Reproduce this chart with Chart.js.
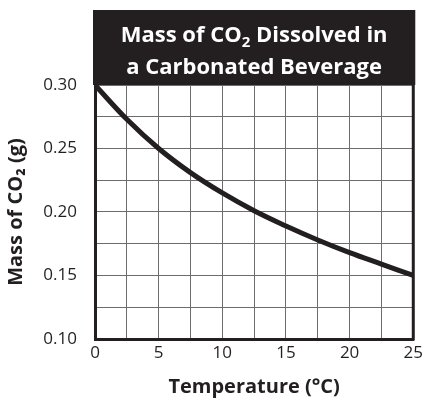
<!DOCTYPE html>
<html lang="en">
<head>
    <meta charset="UTF-8">
    <title>Mass of CO2 Dissolved in a Carbonated Beverage</title>
    <script src="https://cdn.jsdelivr.net/npm/chart.js"></script>
    <style>
        html, body { margin: 0; padding: 0; background: #fff; }
        #wrap { width: 427px; height: 403px; position: relative; }
    </style>
</head>
<body>
    <div id="wrap"><canvas id="co2Chart"></canvas></div>

    <script>
        // values
        const temperatures = [0, 2.5, 5, 7.5, 10, 12.5, 15, 17.5, 20, 22.5, 25];
        const massCO2 = [0.300, 0.273, 0.250, 0.231, 0.215, 0.201, 0.189, 0.178, 0.168, 0.159, 0.150];
        const xTickLabels = [0, 5, 10, 15, 20, 25];
        const yTickLabels = [0.10, 0.15, 0.20, 0.25, 0.30];

        const titleLines = [['Mass of CO', '2', ' Dissolved in'], ['a Carbonated Beverage']];
        const ink = '#231f20';
        const font = "'Open Sans', sans-serif";

        // black title box + right border of the grid
        const frame = {
            id: 'frame',
            afterDraw(chart) {
                const { ctx, chartArea: a } = chart;
                ctx.save();
                ctx.fillStyle = ink;
                ctx.fillRect(a.left - 2, 10, a.right - a.left + 4, a.top - 10);
                ctx.fillStyle = '#fff';
                ctx.textBaseline = 'alphabetic';
                const cx = (a.left + a.right) / 2;
                const big = 'bold 22px ' + font, small = 'bold 15px ' + font;
                const ys = [42, 74];
                titleLines.forEach((parts, i) => {
                    const widths = parts.map((p, j) => { ctx.font = j === 1 ? small : big; return ctx.measureText(p).width; });
                    let x = cx - widths.reduce((s, w) => s + w, 0) / 2;
                    parts.forEach((p, j) => {
                        ctx.font = j === 1 ? small : big;
                        ctx.textAlign = 'left';
                        ctx.fillText(p, x, ys[i] + (j === 1 ? 5 : 0));
                        x += widths[j];
                    });
                });
                ctx.strokeStyle = ink;
                ctx.lineWidth = 3;
                ctx.beginPath();
                ctx.moveTo(a.right, a.top);
                ctx.lineTo(a.right, a.bottom + 1.5);
                ctx.stroke();
                ctx.restore();
            }
        };

        new Chart(document.getElementById('co2Chart'), {
            type: 'line',
            data: {
                datasets: [{
                    data: temperatures.map((t, i) => ({ x: t, y: massCO2[i] })),
                    borderColor: ink,
                    borderWidth: 5,
                    pointRadius: 0,
                    tension: 0.4,
                    fill: false
                }]
            },
            options: {
                responsive: true,
                maintainAspectRatio: false,
                animation: false,
                layout: { padding: { top: 85, right: 11, left: 0, bottom: 0 } },
                plugins: { legend: { display: false }, tooltip: { enabled: false } },
                scales: {
                    x: {
                        type: 'linear',
                        min: 0, max: 25,
                        afterBuildTicks: s => { s.ticks = temperatures.map(v => ({ value: v })); },
                        afterFit: s => { s.height = 64; },
                        grid: { color: '#6d6d6d', lineWidth: 1, drawTicks: false },
                        border: { color: ink, width: 3 },
                        ticks: {
                            color: ink,
                            font: { family: font, size: 17 },
                            padding: 4,
                            autoSkip: false,
                            maxRotation: 0,
                            callback: v => xTickLabels.includes(v) ? String(v) : ''
                        },
                        title: {
                            display: true,
                            text: 'Temperature (°C)',
                            color: ink,
                            font: { family: font, size: 20, weight: 'bold' },
                            padding: { top: 6 }
                        }
                    },
                    y: {
                        min: 0.10, max: 0.30,
                        afterBuildTicks: s => {
                            s.ticks = [];
                            for (let i = 0; i <= 8; i++) s.ticks.push({ value: +(0.10 + i * 0.025).toFixed(3) });
                        },
                        afterFit: s => { s.width = 95; },
                        grid: { color: '#6d6d6d', lineWidth: 1, drawTicks: false },
                        border: { color: ink, width: 3 },
                        ticks: {
                            color: ink,
                            font: { family: font, size: 17 },
                            padding: 18,
                            autoSkip: false,
                            callback: v => yTickLabels.some(t => Math.abs(t - v) < 1e-6) ? v.toFixed(2) : ''
                        },
                        title: {
                            display: true,
                            text: 'Mass of CO₂ (g)',
                            color: ink,
                            font: { family: font, size: 20, weight: 'bold' },
                            padding: { top: 4, bottom: 0 }
                        }
                    }
                }
            },
            plugins: [frame]
        });
    </script>
</body>
</html>
